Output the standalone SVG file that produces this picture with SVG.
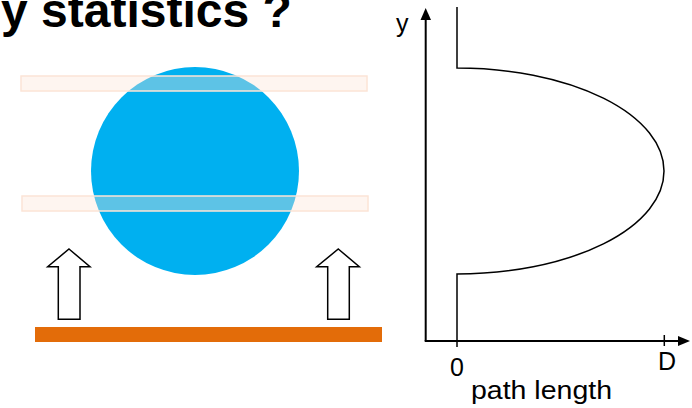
<svg xmlns="http://www.w3.org/2000/svg" width="692" height="408" viewBox="0 0 692 408">
<style>
.title{font-family:"Liberation Sans",Arial,sans-serif;font-weight:bold;font-size:48px;fill:#000}
.lbl{font-family:"Liberation Sans",Arial,sans-serif;font-size:25px;fill:#000}
.band{fill:#FCE4D6;fill-opacity:0.37;stroke:#FCE4D6;stroke-width:1.5}
.barrow{fill:#fff;stroke:#000;stroke-width:1.5;stroke-linejoin:miter}
.axis{stroke:#000;stroke-width:2;fill:none}
.curve{stroke:#000;stroke-width:1.5;fill:none}
</style>
<rect width="692" height="408" fill="#fff"/>
<g id="title"><text class="title" x="1" y="27">y statistics ?</text></g>
<g id="sphere"><circle cx="195" cy="171" r="104" fill="#00B0F0"/></g>
<g id="band-top"><rect class="band" x="21" y="76" width="346" height="15"/></g>
<g id="band-bottom"><rect class="band" x="22" y="196" width="346" height="15"/></g>
<g id="arrow-left"><polygon class="barrow" points="69,249 90,266.7 80,266.7 80,319.3 58.3,319.3 58.3,266.7 47.7,266.7"/></g>
<g id="arrow-right"><polygon class="barrow" points="338.3,249 359.3,266.7 349.3,266.7 349.3,319.3 327.7,319.3 327.7,266.7 316.7,266.7"/></g>
<g id="source"><rect x="35" y="327" width="347" height="15" fill="#E36C09"/></g>
<g id="connectors">
<line class="axis" x1="425.7" y1="341" x2="425.7" y2="19"/>
<polygon points="425.7,8 420.5,20 431,20" fill="#000"/>
<line class="axis" x1="424.7" y1="341" x2="679" y2="341"/>
<polygon points="690,341 678,336 678,346" fill="#000"/>
<line x1="664.3" y1="335" x2="664.3" y2="346" stroke="#000" stroke-width="1.5"/>
</g>
<g id="profile"><path class="curve" d="M457,7 V68 A207,103 0 0 1 457,274 V347"/></g>
<g id="labels">
<text class="lbl" x="396" y="32">y</text>
<text class="lbl" x="450" y="376">0</text>
<text class="lbl" x="658" y="370">D</text>
<text class="lbl" x="471" y="399" textLength="141" lengthAdjust="spacingAndGlyphs">path length</text>
</g>
</svg>
